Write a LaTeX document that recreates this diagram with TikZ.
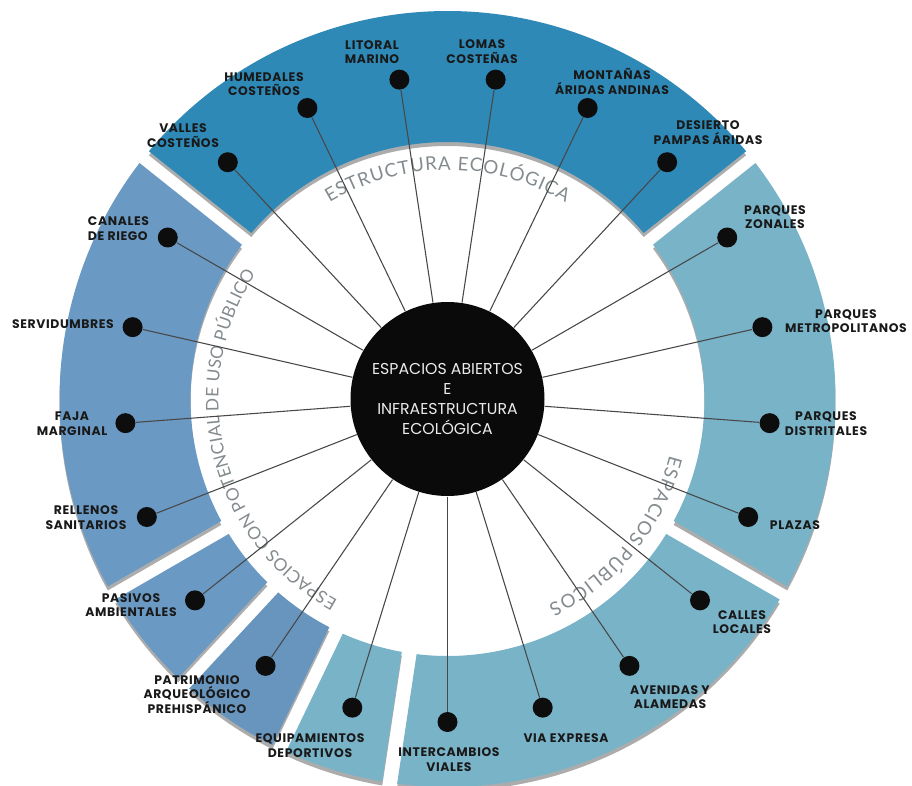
\documentclass[tikz,border=0pt]{standalone}
\usepackage{fontspec}
\setmainfont{Poppins}
\newfontfamily\labelfam{Poppins}[LetterSpace=5]
\newfontfamily\ringfam{Lato}
\usetikzlibrary{decorations.text}

\definecolor{ecoblue}{RGB}{46,137,183}
\definecolor{usoblue}{RGB}{106,154,196}
\definecolor{patblue}{RGB}{104,149,190}
\definecolor{pubblue}{RGB}{121,179,200}
\definecolor{ringgray}{RGB}{132,139,142}
\definecolor{shadowgray}{RGB}{172,172,172}

% one piece of the ring: start angle, end angle, colour
\newcommand{\ringseg}[3]{%
  \fill[shadowgray, shift={(0,-4)}] ({#1+1.11}:388) arc[start angle={#1+1.11}, end angle={#2-1.11}, radius=388] -- ({#2-1.67}:257) arc[start angle={#2-1.67}, end angle={#1+1.67}, radius=257] -- cycle;
  \fill[#3] ({#1+1.11}:388) arc[start angle={#1+1.11}, end angle={#2-1.11}, radius=388] -- ({#2-1.67}:257) arc[start angle={#2-1.67}, end angle={#1+1.67}, radius=257] -- cycle;}

\tikzset{every picture/.style={line width=0.75pt}}
\tikzset{
  hub/.style={circle, fill=black!96, minimum size=145.5pt, inner sep=0pt, text=black!8, align=center, font=\fontsize{11.8}{15}\selectfont},
  enddot/.style={circle, fill=black!95, minimum size=15pt, inner sep=0pt},
  spoke/.style={draw=black!72, line width=0.8pt},
  lbl/.style={align=center, text=black!90, font=\labelfam\bfseries\fontsize{9.3}{10.9}\selectfont},
  ringtext/.style 2 args={decorate, decoration={text along path, text align=fit to path, text={|\ringfam\fontsize{#1}{#1}\selectfont\color{ringgray}|#2}}}
}

\begin{document}
\begin{tikzpicture}[x=0.75pt,y=0.75pt]
\useasboundingbox (-447.5,-386) rectangle (464.5,399);

%Ring pieces
\ringseg{38.571}{141.429}{ecoblue}
\ringseg{-30}{38.571}{pubblue}
\ringseg{-98.571}{-30}{pubblue}
\ringseg{-115.714}{-98.571}{pubblue}
\ringseg{-132.857}{-115.714}{patblue}
\ringseg{-150}{-132.857}{usoblue}
\ringseg{-218.571}{-150}{usoblue}

%Ring titles
\path[ringtext={14}{ESTRUCTURA ECOLÓGICA}] (121:229) arc[start angle=121, end angle=59, radius=229];
\path[ringtext={13}{ESPACIOS CON POTENCIAL DE USO PÚBLICO}] (241.4:229) arc[start angle=241.4, end angle=146.9, radius=229];
\path[ringtext={14}{ESPACIOS PÚBLICOS}] (-14.2:229) arc[start angle=-14.2, end angle=-63.9, radius=229];

%Centre
\node[hub] (hub) at (0,0) {ESPACIOS ABIERTOS\\E\\INFRAESTRUCTURA\\ECOLÓGICA};

%Dots
\node[enddot] (lomas) at (81.429:323) {};
\node[enddot] (montanas) at (64.286:323) {};
\node[enddot] (desierto) at (47.143:323) {};
\node[enddot] (zonales) at (30:323) {};
\node[enddot] (metro) at (12.857:323) {};
\node[enddot] (distritales) at (-4.286:323) {};
\node[enddot] (plazas) at (-21.429:323) {};
\node[enddot] (calles) at (-38.571:323) {};
\node[enddot] (avenidas) at (-55.714:323) {};
\node[enddot] (via) at (-72.857:323) {};
\node[enddot] (intercambios) at (-90:323) {};
\node[enddot] (equipamientos) at (-107.143:323) {};
\node[enddot] (patrimonio) at (-124.286:323) {};
\node[enddot] (pasivos) at (-141.429:323) {};
\node[enddot] (rellenos) at (-158.571:323) {};
\node[enddot] (faja) at (-175.714:323) {};
\node[enddot] (servidumbres) at (167.143:323) {};
\node[enddot] (canales) at (150:323) {};
\node[enddot] (valles) at (132.857:323) {};
\node[enddot] (humedales) at (115.714:323) {};
\node[enddot] (litoral) at (98.571:323) {};

%Spokes
\draw[spoke] (hub) -- (lomas);
\draw[spoke] (hub) -- (montanas);
\draw[spoke] (hub) -- (desierto);
\draw[spoke] (hub) -- (zonales);
\draw[spoke] (hub) -- (metro);
\draw[spoke] (hub) -- (distritales);
\draw[spoke] (hub) -- (plazas);
\draw[spoke] (hub) -- (calles);
\draw[spoke] (hub) -- (avenidas);
\draw[spoke] (hub) -- (via);
\draw[spoke] (hub) -- (intercambios);
\draw[spoke] (hub) -- (equipamientos);
\draw[spoke] (hub) -- (patrimonio);
\draw[spoke] (hub) -- (pasivos);
\draw[spoke] (hub) -- (rellenos);
\draw[spoke] (hub) -- (faja);
\draw[spoke] (hub) -- (servidumbres);
\draw[spoke] (hub) -- (canales);
\draw[spoke] (hub) -- (valles);
\draw[spoke] (hub) -- (humedales);
\draw[spoke] (hub) -- (litoral);

% Text Node
\node[lbl] (tvalles) at (-264.5,263.5) {VALLES\\COSTEÑOS};
% Text Node
\node[lbl] (thumedales) at (-183.5,315) {HUMEDALES\\COSTEÑOS};
% Text Node
\node[lbl] (tlitoral) at (-75.5,347) {LITORAL\\MARINO};
% Text Node
\node[lbl] (tlomas) at (34.5,347.5) {LOMAS\\COSTEÑAS};
% Text Node
\node[lbl] (tmontanas) at (164.5,317.5) {MONTAÑAS\\ÁRIDAS ANDINAS};
% Text Node
\node[lbl] (tdesierto) at (260.5,266.5) {DESIERTO\\PAMPAS ÁRIDAS};
% Text Node
\node[lbl] (tzonales) at (327.5,182) {PARQUES\\ZONALES};
% Text Node
\node[lbl] (tmetro) at (398.5,78) {PARQUES\\METROPOLITANOS};
% Text Node
\node[lbl] (tdistritales) at (378.5,-24.5) {PARQUES\\DISTRITALES};
% Text Node
\node[lbl] (tplazas) at (347.5,-126) {PLAZAS};
% Text Node
\node[lbl] (tcalles) at (294.5,-223) {CALLES\\LOCALES};
% Text Node
\node[lbl] (tavenidas) at (222.5,-298) {AVENIDAS Y\\ALAMEDAS};
% Text Node
\node[lbl] (tvia) at (118.5,-339) {VIA EXPRESA};
% Text Node
\node[lbl] (tintercambios) at (1.5,-360.5) {INTERCAMBIOS\\VIALES};
% Text Node
\node[lbl] (tequipamientos) at (-137.5,-346.5) {EQUIPAMIENTOS\\DEPORTIVOS};
% Text Node
\node[lbl] (tpatrimonio) at (-250.5,-295.5) {PATRIMONIO\\ARQUEOLÓGICO\\PREHISPÁNICO};
% Text Node
\node[lbl] (tpasivos) at (-316.5,-206) {PASIVOS\\AMBIENTALES};
% Text Node
\node[lbl] (trellenos) at (-361.5,-118.5) {RELLENOS\\SANITARIOS};
% Text Node
\node[lbl] (tfaja) at (-375.5,-24.5) {FAJA\\MARGINAL};
% Text Node
\node[lbl] (tservidumbres) at (-384.5,75) {SERVIDUMBRES};
% Text Node
\node[lbl, align=left] (tcanales) at (-329,170.5) {CANALES\\DE RIEGO};

\end{tikzpicture}
\end{document}
